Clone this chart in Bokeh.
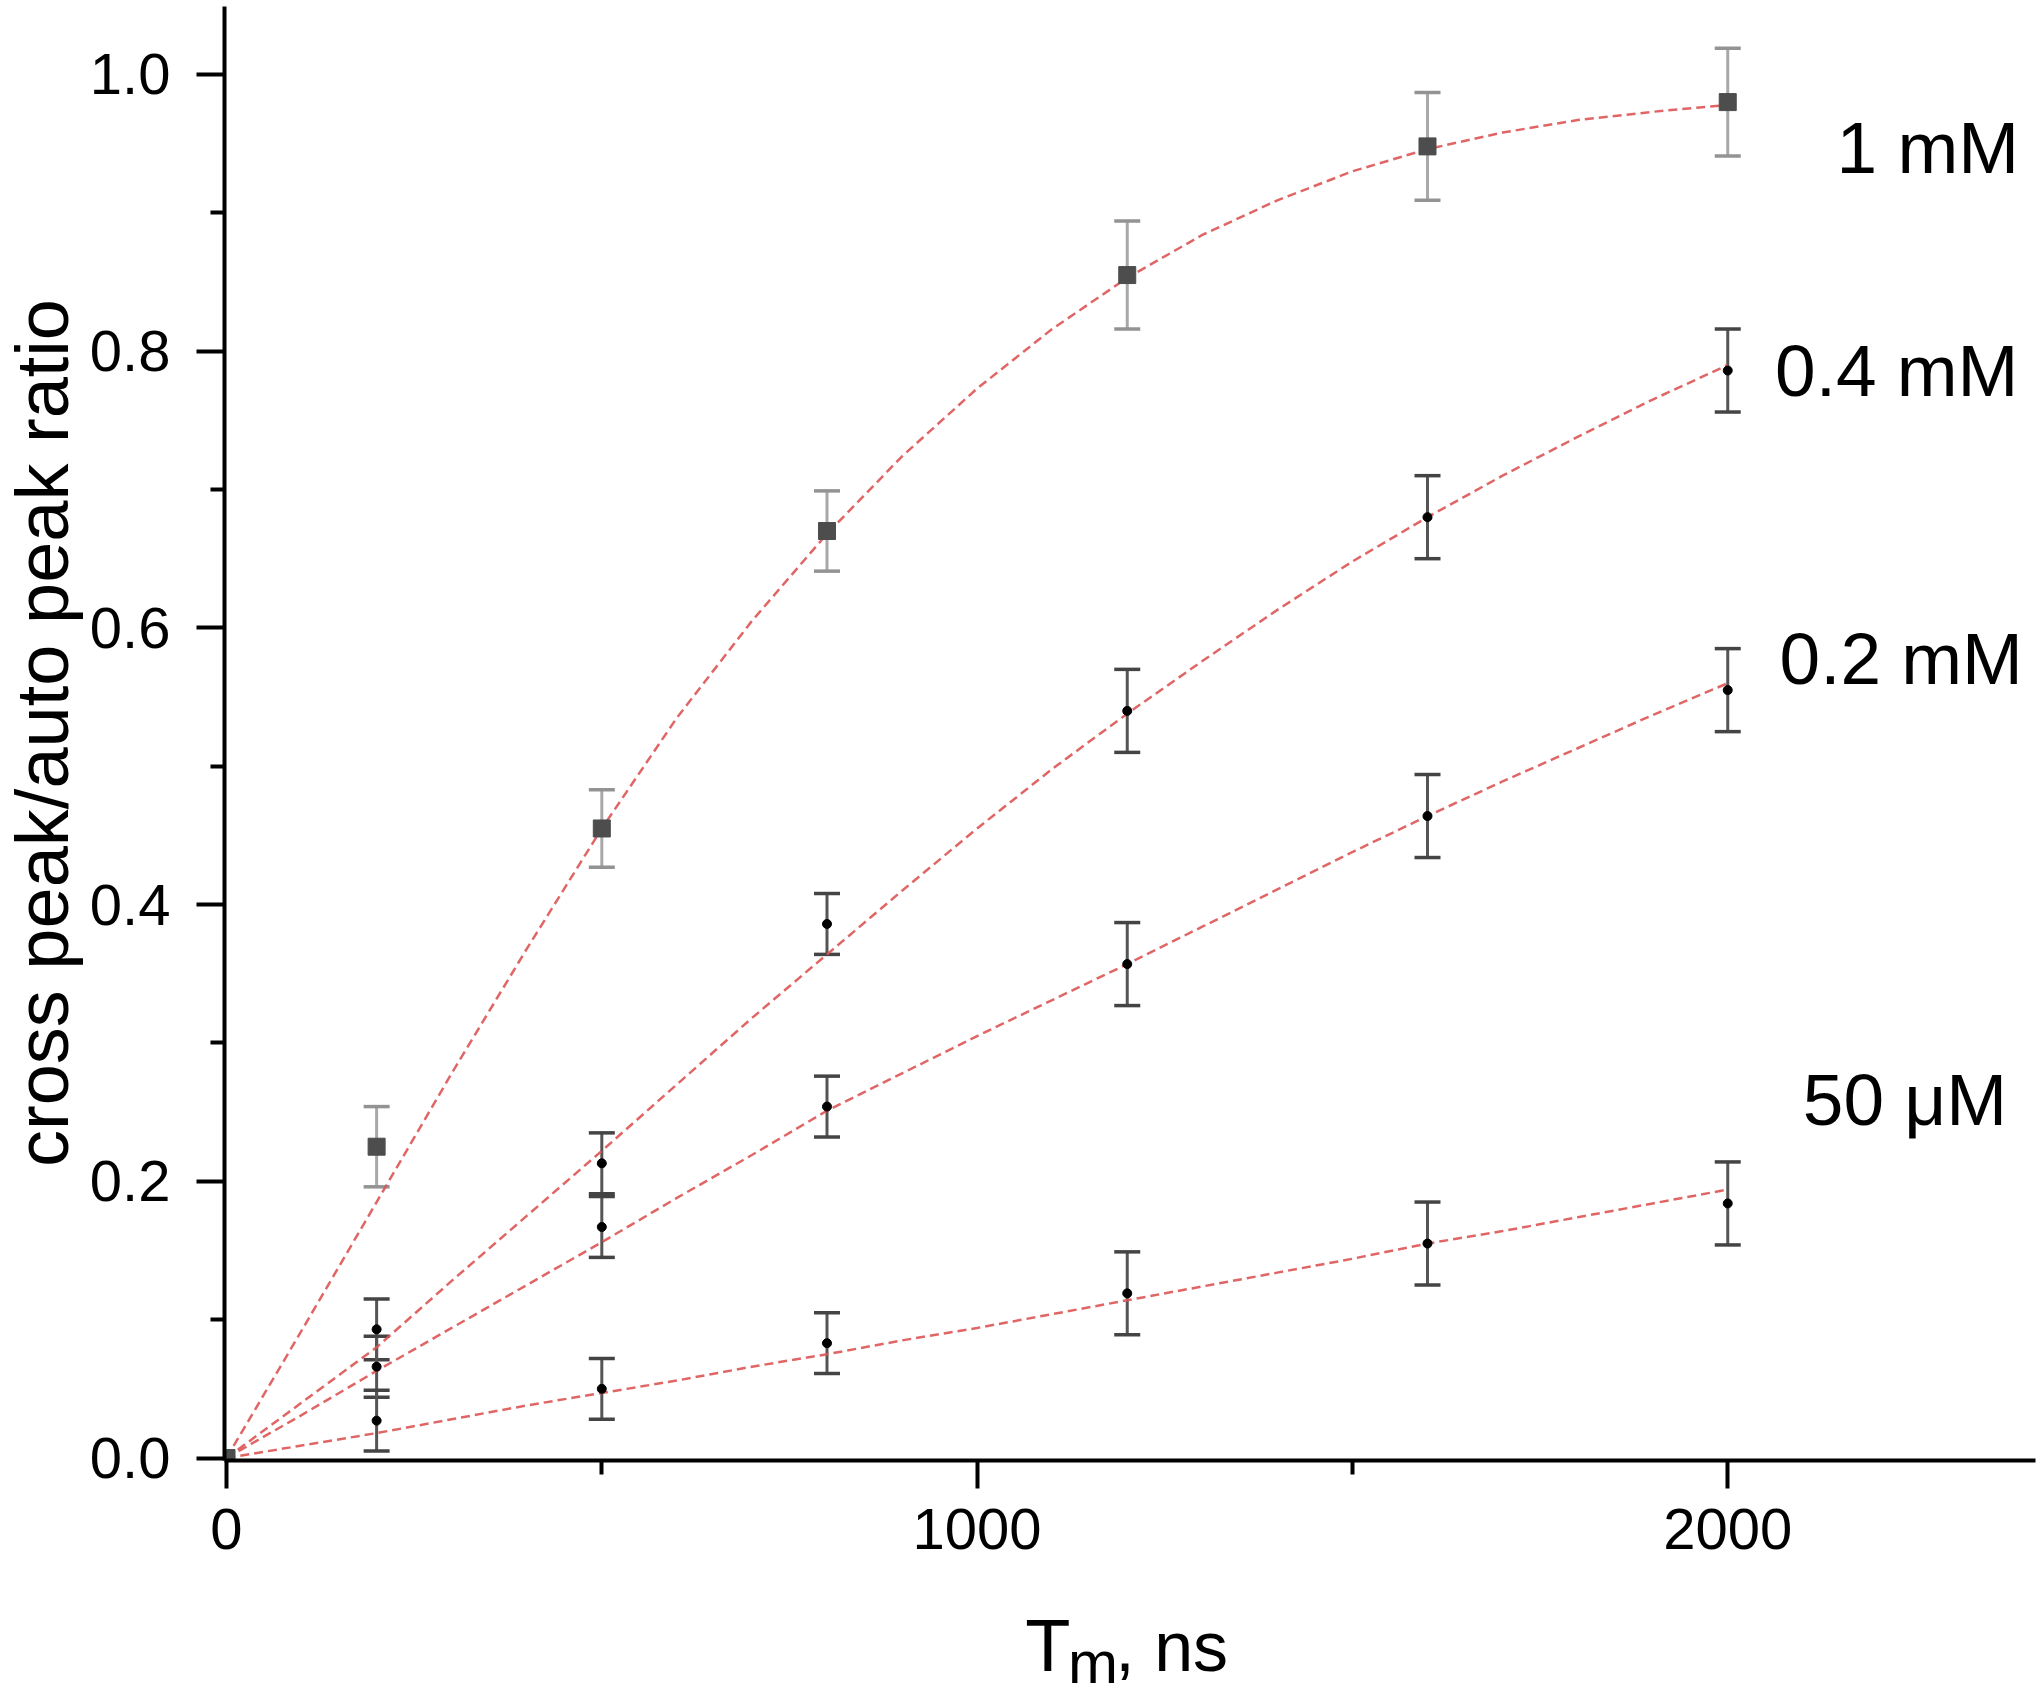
import math
from bokeh.plotting import figure
from bokeh.layouts import column, row
from bokeh.models import (Range1d, FixedTicker, PrintfTickFormatter, Whisker,
                          TeeHead, ColumnDataSource)
from bokeh.core.properties import value
from bokeh.embed import file_html
from bokeh.resources import INLINE

# ---------------- data ----------------
tm = [0, 200, 500, 800, 1200, 1600, 2000]

series_names = ["1 mM", "0.4 mM", "0.2 mM", "50 \u03bcM"]

ratio_1mM = [0.0, 0.225, 0.455, 0.670, 0.855, 0.948, 0.980]
err_1mM = [0.0, 0.029, 0.028, 0.029, 0.039, 0.039, 0.039]

ratio_04mM = [0.0, 0.093, 0.213, 0.386, 0.540, 0.680, 0.786]
err_04mM = [0.0, 0.022, 0.022, 0.022, 0.030, 0.030, 0.030]

ratio_02mM = [0.0, 0.066, 0.167, 0.254, 0.357, 0.464, 0.555]
err_02mM = [0.0, 0.022, 0.022, 0.022, 0.030, 0.030, 0.030]

ratio_50uM = [0.0, 0.027, 0.050, 0.083, 0.119, 0.155, 0.184]
err_50uM = [0.0, 0.022, 0.022, 0.022, 0.030, 0.030, 0.030]

# fitted curves
fit_x = [0, 100, 200, 300, 400, 500, 600, 700, 800, 900, 1000,
         1100, 1200, 1300, 1400, 1500, 1600, 1700, 1800, 1900, 2000]
fit_1mM = [0.0, 0.092, 0.185, 0.278, 0.368, 0.455, 0.535, 0.605, 0.668, 0.724,
           0.773, 0.816, 0.853, 0.884, 0.909, 0.930, 0.946, 0.958, 0.967, 0.973, 0.978]
fit_04mM = [0.0, 0.040, 0.080, 0.128, 0.175, 0.222, 0.270, 0.318, 0.364, 0.410,
            0.455, 0.498, 0.538, 0.576, 0.613, 0.648, 0.680, 0.710, 0.738, 0.765, 0.790]
fit_02mM = [0.0, 0.031, 0.063, 0.094, 0.125, 0.156, 0.188, 0.219, 0.251, 0.278,
            0.305, 0.331, 0.357, 0.384, 0.411, 0.438, 0.464, 0.489, 0.513, 0.537, 0.560]
fit_50uM = [0.0, 0.009, 0.018, 0.028, 0.038, 0.047, 0.056, 0.066, 0.075, 0.085,
            0.094, 0.104, 0.114, 0.124, 0.134, 0.144, 0.155, 0.164, 0.174, 0.184, 0.194]

x_ticks = [0, 1000, 2000]
x_minor = [500, 1500]
y_ticks = [0.0, 0.2, 0.4, 0.6, 0.8, 1.0]
y_minor = [0.1, 0.3, 0.5, 0.7, 0.9]

y_title = "cross peak/auto peak ratio"
x_title_parts = ["T", "m", ", ns"]

# ---------------- layout / styles ----------------
FONT = "Liberation Sans"
# label anchors (vertical middle of each text)
label_x = [2145, 2063, 2069, 2100]
label_y = [0.947, 0.786, 0.578, 0.259]

STRIP_W = 84          # strip holding the y title
LEFT = 140            # room for y ticks and tick labels
FW = 1811
TOP = 6
FH = 1454
BOTTOM = 135
TOTAL_H = 1697
XSTRIP_H = TOTAL_H - TOP - FH - BOTTOM

xr = Range1d(-2.66, 2410)
yr = Range1d(-0.0018, 1.0491)

p = figure(frame_width=FW, frame_height=FH, x_range=xr, y_range=yr,
           output_backend="svg", toolbar_location=None,
           min_border_left=LEFT, min_border_right=1,
           min_border_top=TOP, min_border_bottom=BOTTOM)
p.outline_line_color = None
p.grid.visible = False
p.background_fill_color = "white"
p.border_fill_color = "white"

for ax in (p.xaxis[0], p.yaxis[0]):
    ax.axis_line_width = 4
    ax.axis_line_color = "black"
    ax.major_tick_line_width = 4
    ax.minor_tick_line_width = 4
    ax.major_tick_in = 0
    ax.minor_tick_in = 0
    ax.major_tick_out = 28
    ax.minor_tick_out = 14
    ax.major_label_text_font = FONT
    ax.major_label_text_font_size = "58px"
    ax.major_label_text_color = "black"
    ax.axis_label = None

p.xaxis[0].ticker = FixedTicker(ticks=x_ticks, minor_ticks=x_minor)
p.xaxis[0].formatter = PrintfTickFormatter(format="%d")
p.xaxis[0].major_label_standoff = 20
p.yaxis[0].ticker = FixedTicker(ticks=y_ticks, minor_ticks=y_minor)
p.yaxis[0].formatter = PrintfTickFormatter(format="%.1f")
p.yaxis[0].major_label_standoff = 26

# fit lines
fit_color = "#dd5555"
for fy in (fit_1mM, fit_04mM, fit_02mM, fit_50uM):
    p.line(fit_x, fy, line_color=fit_color, line_alpha=0.9,
           line_width=2.5, line_dash="9 5")

# error bars
def add_err(ys, errs, stem_color, cap_color):
    src = ColumnDataSource(dict(
        x=[t for t, e in zip(tm, errs) if e > 0],
        upper=[y + e for y, e in zip(ys, errs) if e > 0],
        lower=[y - e for y, e in zip(ys, errs) if e > 0]))
    w = Whisker(source=src, base="x", upper="upper", lower="lower",
                dimension="height", line_color=stem_color, line_width=3,
                upper_head=TeeHead(size=26, line_color=cap_color, line_width=3.5),
                lower_head=TeeHead(size=26, line_color=cap_color, line_width=3.5))
    p.add_layout(w)

add_err(ratio_1mM, err_1mM, "#a8a8a8", "#939393")
add_err(ratio_04mM, err_04mM, "#555555", "#444444")
add_err(ratio_02mM, err_02mM, "#555555", "#444444")
add_err(ratio_50uM, err_50uM, "#555555", "#444444")

# markers
for ys in (ratio_04mM, ratio_02mM, ratio_50uM):
    p.scatter(tm[1:], ys[1:], marker="circle", size=9,
              fill_color="black", line_color="black")
p.scatter(tm, ratio_1mM, marker="square", size=17,
          fill_color="#4d4d4d", line_color="#4d4d4d")

# series labels
p.text(x=label_x, y=label_y, text=series_names,
       text_font=value(FONT), text_font_size="73px",
       text_align="left", text_baseline="middle", text_color="black")

# x-axis title (with subscript) in a strip below, sharing the x range
p2 = figure(frame_width=FW, frame_height=XSTRIP_H, x_range=xr,
            y_range=Range1d(0, XSTRIP_H), output_backend="svg",
            toolbar_location=None, x_axis_location=None, y_axis_location=None,
            min_border_left=LEFT, min_border_right=1,
            min_border_top=0, min_border_bottom=0)
p2.outline_line_color = None
p2.grid.visible = False
p2.text(x=[1064], y=[XSTRIP_H - 50], text=[x_title_parts[0]], text_font=value(FONT),
        text_font_size="74px", text_baseline="middle", text_color="black")
p2.text(x=[1121], y=[XSTRIP_H - 67], text=[x_title_parts[1]], text_font=value(FONT),
        text_font_size="60px", text_baseline="middle", text_color="black")
p2.text(x=[1184], y=[XSTRIP_H - 51.5], text=[x_title_parts[2]], text_font=value(FONT),
        text_font_size="70px", text_baseline="middle", text_color="black")

# y-axis title in a strip on the left, sharing the y range
pl = figure(frame_width=STRIP_W, frame_height=FH, x_range=Range1d(0, STRIP_W),
            y_range=yr, output_backend="svg", toolbar_location=None,
            x_axis_location=None, y_axis_location=None,
            min_border_left=0, min_border_right=0,
            min_border_top=TOP, min_border_bottom=TOTAL_H - TOP - FH)
pl.outline_line_color = None
pl.grid.visible = False
pl.text(x=[42], y=[0.524], text=[y_title], angle=math.pi / 2,
        text_font=value(FONT), text_font_size="74px", text_align="center",
        text_baseline="middle", text_color="black")

layout = row(pl, column(p, p2, spacing=0), spacing=0)
open("out.html", "w").write(file_html(layout, INLINE))
